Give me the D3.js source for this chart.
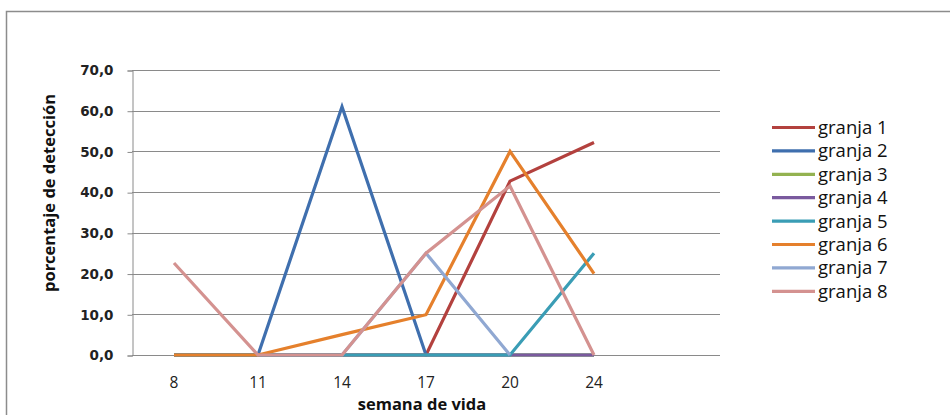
<!DOCTYPE html>
<html><head><meta charset="utf-8">
<script src="https://cdn.jsdelivr.net/npm/d3@7"></script>
<style>body{margin:0;background:#fff}svg{display:block}</style>
</head><body>
<script>
const categories = ["8","11","14","17","20","24",""];
const seriesNames = ["granja 1","granja 2","granja 3","granja 4","granja 5","granja 6","granja 7","granja 8"];
const granja1 = [0,0,0,0,42.7,52.2];
const granja2 = [0,0,61.0,0,0,0];
const granja3 = [0,0,0,0,0,0];
const granja4 = [0,0,0,0,0,0];
const granja5 = [0,0,0,0,0,25.0];
const granja6 = [0,0,5.0,9.9,50.0,20.0];
const granja7 = [null,null,0,25.0,0,null];
const granja8 = [22.6,0,0,25.0,41.5,0];
const yTicks = [0,10,20,30,40,50,60,70];
const colors = ["#B3413E","#3F6FAE","#93B250","#7A5A9E","#3A9DB5","#E5802C","#90A8D2","#D49290"];
const seriesValues = [granja1,granja2,granja3,granja4,granja5,granja6,granja7,granja8];

(function(){
const W=950,H=415;
const svg=d3.select("body").append("svg").attr("width",W).attr("height",H);
svg.append("rect").attr("x",6.5).attr("y",11.5).attr("width",W).attr("height",H).attr("fill","#fff").attr("stroke","#8c8c8c").attr("stroke-width",1.5);

const pl=132,pr=720,pt=70,pb=355;
const x=d3.scaleBand().domain(categories).range([pl,pr]);
const y=d3.scaleLinear().domain([0,70]).range([pb,pt]);

svg.append("g").selectAll("line").data(yTicks).join("line")
 .attr("x1",pl).attr("x2",pr).attr("y1",d=>Math.round(y(d))+0.5).attr("y2",d=>Math.round(y(d))+0.5)
 .attr("stroke","#8a8a8a").attr("stroke-width",1);

const fmt=d=>d.toFixed(1).replace(".",",");
const yAxis=svg.append("g").attr("transform",`translate(${pl+0.5},0.5)`)
 .call(d3.axisLeft(y).tickValues(yTicks).tickFormat(fmt).tickSize(5).tickPadding(14));
yAxis.select(".domain").attr("stroke","#8a8a8a");
yAxis.selectAll(".tick line").attr("stroke","#8a8a8a");
yAxis.selectAll("text").attr("font-family","DejaVu Sans").attr("font-weight","bold").attr("font-size","13.5px").attr("fill","#222");

const xAxis=svg.append("g").attr("transform",`translate(0,${pb+16})`)
 .call(d3.axisBottom(x).tickSize(0).tickPadding(6));
xAxis.select(".domain").remove();
xAxis.selectAll("text").attr("font-family","Open Sans").attr("font-size","15.5px").attr("fill","#222");

const line=d3.line().defined(d=>d.v!==null).x(d=>x(d.c)+x.bandwidth()/2).y(d=>y(d.v));
seriesValues.forEach((vals,i)=>{
  const pts=vals.map((v,j)=>({c:categories[j],v:v}));
  svg.append("path").datum(pts).attr("d",line).attr("fill","none")
   .attr("stroke",colors[i]).attr("stroke-width",3.2).attr("stroke-linejoin","miter");
});

svg.append("text").attr("transform","translate(55,193) rotate(-90)").attr("text-anchor","middle")
 .attr("font-family","Open Sans").attr("font-weight","bold").attr("font-size","16.5px").attr("fill","#111").text("porcentaje de detección");
svg.append("text").attr("x",422).attr("y",410).attr("text-anchor","middle")
 .attr("font-family","Open Sans").attr("font-weight","bold").attr("font-size","16.5px").attr("fill","#111").text("semana de vida");

const lg=svg.append("g");
seriesNames.forEach((n,i)=>{
  const yy=127.5+i*23.4;
  lg.append("line").attr("x1",772).attr("x2",815).attr("y1",yy).attr("y2",yy).attr("stroke",colors[i]).attr("stroke-width",3.2);
  lg.append("text").attr("x",818).attr("y",yy+6.5).attr("font-family","Open Sans").attr("font-size","18.5px").attr("fill","#111").text(n);
});
})();
</script>
</body></html>
